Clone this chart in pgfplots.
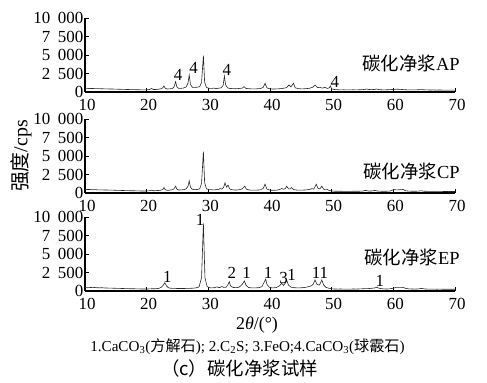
\documentclass[border=0pt]{standalone}
\usepackage{pgfplots}
\pgfplotsset{compat=1.18}
\usepackage{fontspec}
\setmainfont{Liberation Serif}
\newfontfamily\cjk{Noto Sans CJK SC}
\tikzset{
  pklab/.style={font=\fontsize{17}{17}\selectfont, inner sep=0pt},
  samplab/.style={font=\fontsize{18.5}{18.5}\selectfont, anchor=east, inner sep=0pt},
  xrdline/.style={black!85, line width=0.6bp, mark=none},
}
\pgfplotsset{xrdax/.style={
  scale only axis, width=370bp, height=74bp,
  xmin=10, xmax=70, ymin=0, ymax=10000,
  axis x line*=bottom, axis y line*=left,
  axis line style={line width=1.2bp, -},
  xtick={10,20,30,40,50,60,70},
  xticklabels={10,20,30,40,50,60,70},
  ytick={0,2500,5000,7500,10000},
  yticklabels={0,2\hspace{0.45em}500,5\hspace{0.45em}000,7\hspace{0.45em}500,10\hspace{0.45em}000},
  tick align=inside,
  major tick length=4bp,
  tick style={line width=0.8bp, black},
  ticklabel style={font=\fontsize{17}{17}\selectfont},
  yticklabel style={inner sep=1.5bp},
  xticklabel style={inner sep=1bp, yshift=-6.5bp, xshift=2bp},
  scaled y ticks=false,
  clip=false,
}}
\begin{document}
\begin{tikzpicture}
\path[use as bounding box] (0bp,0bp) rectangle (487bp,383bp);
% ---- AP ----
\begin{axis}[xrdax, at={(85bp,291bp)}, anchor=south west]
\addplot[xrdline] coordinates {(10,470)(10.4,500)(10.8,460)(11.2,480)(11.6,450)(12,460)(12.4,430)(12.8,440)(13.2,420)(13.6,430)(14,400)(14.4,410)(14.8,390)(15.2,380)(15.6,370)(16,360)(16.4,350)(16.8,340)(17.2,330)(17.6,320)(18,320)(18.4,300)(18.8,300)(19.2,290)(19.6,280)(20,300)(20.4,320)(20.8,480)(21.1,330)(21.5,340)(21.9,380)(22.3,420)(22.6,560)(22.8,810)(23.0,520)(23.3,400)(23.7,420)(24.1,460)(24.4,620)(24.7,1390)(24.9,680)(25.2,480)(25.6,500)(26.0,540)(26.4,680)(26.7,1200)(26.9,2300)(27.1,1050)(27.4,640)(27.8,620)(28.2,650)(28.6,720)(28.9,1300)(29.2,4900)(29.4,1300)(29.7,620)(30.1,500)(30.5,480)(30.9,520)(31.3,460)(31.7,520)(32.1,560)(32.4,900)(32.6,2160)(32.8,1000)(33.1,560)(33.5,480)(34,450)(34.5,440)(35,480)(35.5,520)(35.8,720)(36.1,480)(36.6,440)(37.2,420)(37.8,430)(38.4,460)(38.9,620)(39.2,1180)(39.5,560)(40,420)(40.6,400)(41.2,420)(41.8,460)(42.3,520)(42.7,600)(43.1,950)(43.4,700)(43.8,1180)(44.1,560)(44.6,450)(45.2,420)(45.8,450)(46.4,500)(46.9,640)(47.3,950)(47.7,600)(48.1,630)(48.5,520)(48.9,630)(49.3,480)(49.6,560)(49.8,810)(50.0,420)(50.5,330)(51,300)(51.5,290)(52,300)(52.5,280)(53,290)(53.5,300)(54,290)(54.5,300)(55,320)(55.4,360)(55.7,400)(56,340)(56.5,320)(57,350)(57.3,400)(57.6,330)(58,300)(58.5,290)(59,300)(59.5,320)(60,350)(60.5,380)(61,360)(61.5,330)(62,300)(62.5,290)(63,280)(63.5,290)(64,300)(64.6,330)(65,300)(65.5,280)(66,270)(66.5,280)(67,260)(67.5,270)(68,260)(68.5,250)(69,260)(69.5,250)(70,260)};
\node[pklab] at (axis cs:25.1,2300) {4};
\node[pklab] at (axis cs:27.6,3200) {4};
\node[pklab] at (axis cs:33.0,2970) {4};
\node[pklab] at (axis cs:50.5,1390) {4};
\node[samplab] at (axis cs:70.8,3900) {{\cjk 碳化净浆}AP};
\end{axis}
% ---- CP ----
\begin{axis}[xrdax, at={(85bp,190bp)}, anchor=south west]
\addplot[xrdline] coordinates {(10,450)(10.4,480)(10.8,470)(11.2,440)(11.6,460)(12,430)(12.4,420)(12.8,430)(13.2,400)(13.6,410)(14,380)(14.4,390)(14.8,370)(15.2,360)(15.6,350)(16,340)(16.4,330)(16.8,320)(17.2,310)(17.6,300)(18,300)(18.4,290)(18.8,280)(19.2,270)(19.6,270)(20,280)(20.4,300)(20.8,380)(21.1,300)(21.5,320)(21.9,340)(22.3,380)(22.6,480)(22.8,740)(23.0,470)(23.3,360)(23.7,380)(24.1,420)(24.4,540)(24.7,920)(24.9,520)(25.2,400)(25.6,420)(26.0,450)(26.4,560)(26.7,900)(26.9,1640)(27.1,800)(27.4,500)(27.8,450)(28.2,480)(28.6,560)(28.9,1300)(29.2,5600)(29.4,1400)(29.7,560)(30.1,460)(30.5,440)(30.9,420)(31.2,440)(31.4,520)(31.6,440)(31.9,600)(32.2,520)(32.5,800)(32.7,1370)(32.95,800)(33.2,1050)(33.5,520)(34,420)(34.5,400)(35,440)(35.5,560)(35.9,920)(36.2,500)(36.7,400)(37.2,380)(37.8,390)(38.4,420)(38.9,620)(39.2,1190)(39.5,520)(40,380)(40.6,360)(41.2,400)(41.6,480)(41.9,600)(42.2,500)(42.5,620)(42.7,920)(43,560)(43.3,560)(43.5,740)(43.8,460)(44.3,400)(44.9,380)(45.5,400)(46.1,440)(46.5,500)(46.8,600)(47.1,520)(47.5,1190)(47.8,600)(48.1,560)(48.4,920)(48.7,520)(49,420)(49.3,470)(49.6,340)(50,270)(50.5,240)(51,230)(51.5,240)(52,220)(52.5,230)(53,220)(53.5,240)(54,230)(54.5,240)(55,260)(55.5,350)(56,260)(56.5,270)(57,350)(57.4,270)(58,240)(58.5,230)(59,240)(59.5,270)(60.1,470)(60.5,420)(61,440)(61.6,470)(62,300)(62.5,250)(63,240)(63.5,230)(64,250)(64.5,300)(65,240)(65.5,230)(66,220)(66.5,230)(67,210)(67.5,220)(68,210)(68.5,200)(69,210)(69.5,200)(70,210)};
\node[samplab] at (axis cs:70.8,2950) {{\cjk 碳化净浆}CP};
\end{axis}
% ---- EP ----
\begin{axis}[xrdax, at={(85bp,92bp)}, anchor=south west]
\addplot[xrdline] coordinates {(10,480)(10.4,500)(10.8,480)(11.2,460)(11.6,470)(12,440)(12.4,430)(12.8,440)(13.2,410)(13.6,400)(14,390)(14.4,380)(14.8,370)(15.2,360)(15.6,350)(16,340)(16.4,330)(16.8,320)(17.2,310)(17.6,300)(18,300)(18.4,290)(18.8,280)(19.2,270)(19.6,270)(20,270)(20.4,280)(20.8,300)(21.2,300)(21.6,320)(22.0,360)(22.4,520)(22.7,800)(22.95,1120)(23.2,700)(23.5,450)(23.8,380)(24.2,360)(24.6,350)(25,340)(25.5,330)(26,340)(26.5,350)(27,360)(27.5,380)(28,420)(28.5,560)(28.9,1800)(29.2,9150)(29.45,1800)(29.8,600)(30.2,440)(30.6,420)(31,460)(31.4,560)(31.7,460)(32.0,500)(32.2,620)(32.5,480)(32.9,520)(33.2,900)(33.4,1260)(33.6,700)(34,480)(34.5,450)(35,520)(35.5,900)(35.85,1350)(36.1,800)(36.5,480)(37,420)(37.6,420)(38.2,450)(38.7,600)(39.0,1100)(39.3,1600)(39.5,900)(39.9,500)(40.4,420)(41,460)(41.5,680)(41.9,1040)(42.2,750)(42.5,1100)(42.7,1490)(43.0,800)(43.4,520)(44,440)(44.6,420)(45.2,440)(45.8,500)(46.3,600)(46.7,700)(47.0,900)(47.3,1490)(47.6,900)(48.0,800)(48.2,1100)(48.4,1490)(48.7,800)(49.1,480)(49.6,360)(50,300)(50.5,270)(51,260)(51.5,270)(52,250)(52.5,260)(53,250)(53.5,270)(54,260)(54.5,280)(55,300)(55.5,320)(56,330)(56.5,360)(57,420)(57.3,500)(57.6,400)(58,320)(58.5,280)(59,270)(59.5,300)(60,380)(60.5,500)(61,480)(61.5,500)(62,360)(62.5,290)(63,270)(63.5,260)(64,280)(64.6,350)(65,280)(65.5,260)(66,250)(66.5,260)(67,240)(67.5,250)(68,240)(68.5,230)(69,240)(69.5,230)(70,240)};
\node[pklab] at (axis cs:23.35,1900) {1};
\node[pklab] at (axis cs:28.65,9600) {1};
\node[pklab] at (axis cs:33.8,2450) {2};
\node[pklab] at (axis cs:36.2,2450) {1};
\node[pklab] at (axis cs:39.7,2400) {1};
\node[pklab] at (axis cs:42.2,1800) {3};
\node[pklab] at (axis cs:43.5,2200) {1};
\node[pklab] at (axis cs:48.1,2400) {11};
\node[pklab] at (axis cs:57.8,1300) {1};
\node[samplab] at (axis cs:70.8,4500) {{\cjk 碳化净浆}EP};
\end{axis}
% ---- labels ----
\node[rotate=90, font=\fontsize{20}{20}\selectfont, inner sep=0pt] at (21bp,227bp) {{\cjk 强度}/cps};
\node[font=\fontsize{18}{18}\selectfont, inner sep=0pt] at (257bp,58bp) {2\textit{θ}/(°)};
\node[font=\fontsize{15.2}{15.2}\selectfont, inner sep=0pt] at (247.5bp,36bp) {1.CaCO\textsubscript{3}({\cjk 方解石}); 2.C\textsubscript{2}S; 3.FeO;4.CaCO\textsubscript{3}({\cjk 球霰石})};
\node[font=\fontsize{18.5}{18.5}\selectfont, inner sep=0pt] at (239.5bp,15bp) {{\cjk （c）碳化净浆试样}};
\end{tikzpicture}
\end{document}
